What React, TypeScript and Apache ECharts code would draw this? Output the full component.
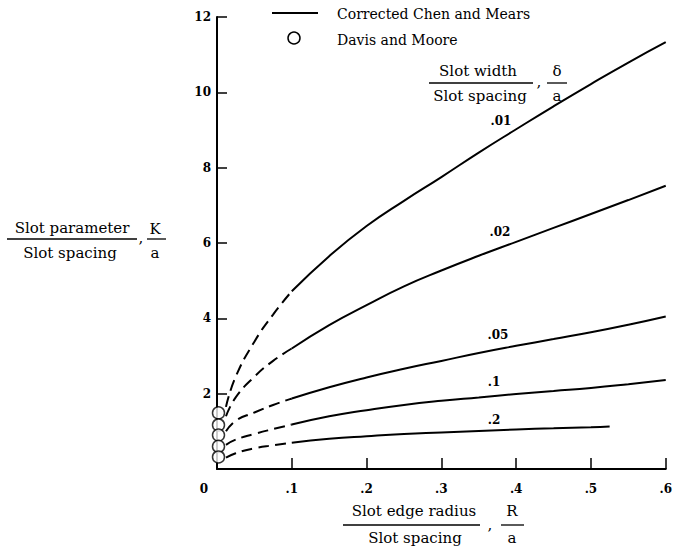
import React, { useEffect, useRef } from 'react';
import * as echarts from 'echarts';

// R/a values (x) for the dashed and solid parts of each curve
const dashedR = [0.012, 0.025, 0.05, 0.075, 0.1];
const solidR = [0.1, 0.15, 0.2, 0.25, 0.3, 0.35, 0.4, 0.45, 0.5, 0.55, 0.6];
const solidR02 = [0.1, 0.15, 0.2, 0.25, 0.3, 0.35, 0.4, 0.45, 0.5, 0.525];

// K/a values for each slot width ratio
const dashed001 = [1.65, 2.45, 3.38, 4.1, 4.72];
const solid001 = [4.72, 5.65, 6.45, 7.12, 7.75, 8.4, 9.02, 9.63, 10.22, 10.79, 11.33];
const dashed002 = [1.4, 1.9, 2.45, 2.87, 3.2];
const solid002 = [3.2, 3.82, 4.35, 4.85, 5.27, 5.66, 6.03, 6.4, 6.77, 7.14, 7.52];
const dashed005 = [1.0, 1.28, 1.5, 1.7, 1.87];
const solid005 = [1.87, 2.17, 2.43, 2.66, 2.87, 3.08, 3.27, 3.45, 3.63, 3.83, 4.05];
const dashed01 = [0.64, 0.78, 0.93, 1.06, 1.18];
const solid01 = [1.18, 1.4, 1.56, 1.7, 1.81, 1.9, 1.99, 2.07, 2.15, 2.25, 2.36];
const dashed02 = [0.3, 0.42, 0.55, 0.63, 0.7];
const solid02 = [0.7, 0.8, 0.87, 0.93, 0.97, 1.01, 1.05, 1.08, 1.11, 1.13];

// Davis and Moore points
const davisR = [0.002, 0.002, 0.002, 0.002, 0.002];
const davisK = [1.49, 1.17, 0.9, 0.6, 0.32];

const curveLabels = ['.01', '.02', '.05', '.1', '.2'];

const SERIF = '"DejaVu Serif", "Liberation Serif", serif';

function pairs(xs: number[], ys: number[]) {
  return xs.map((x, i) => [x, ys[i]]);
}

export default function App() {
  const ref = useRef<HTMLDivElement>(null);
  useEffect(() => {
    document.body.style.margin = '0';
    const chart = echarts.init(ref.current!, null, { renderer: 'svg' });

    const curves = [
      { d: dashed001, s: solid001, sr: solidR },
      { d: dashed002, s: solid002, sr: solidR },
      { d: dashed005, s: solid005, sr: solidR },
      { d: dashed01, s: solid01, sr: solidR },
      { d: dashed02, s: solid02, sr: solidR02 },
    ];

    const series: any[] = [];
    curves.forEach((c, i) => {
      series.push({
        type: 'line',
        name: 'dashed ' + curveLabels[i],
        data: pairs(dashedR, c.d),
        smooth: 0.5,
        showSymbol: false,
        lineStyle: { color: '#000', width: 2, type: [11, 6] },
      });
      series.push({
        type: 'line',
        name: 'Corrected Chen and Mears ' + curveLabels[i],
        data: pairs(c.sr, c.s),
        smooth: 0.5,
        showSymbol: false,
        lineStyle: { color: '#000', width: 2 },
      });
    });
    series.push({
      type: 'scatter',
      name: 'Davis and Moore',
      data: pairs(davisR, davisK),
      symbol: 'circle',
      symbolSize: 12,
      itemStyle: { color: '#fff', borderColor: '#000', borderWidth: 1.5 },
      z: 5,
    });

    const txt = (text: string, x: number, y: number, size = 15, weight = 'normal', align = 'center') => ({
      type: 'text',
      x,
      y,
      z: 10,
      style: {
        text,
        font: `${weight} ${size}px ${SERIF}`,
        fill: '#000',
        align,
        verticalAlign: 'middle',
        textAlign: align,
        textVerticalAlign: 'middle',
      },
    });
    const ln = (x1: number, y1: number, x2: number, y2: number, w = 1.3) => ({
      type: 'line',
      z: 10,
      shape: { x1, y1, x2, y2 },
      style: { stroke: '#000', lineWidth: w },
    });

    const graphic: any[] = [
      // legend
      ln(272, 13, 318, 13, 2),
      { type: 'circle', z: 10, shape: { cx: 294, cy: 38, r: 6 }, style: { fill: '#fff', stroke: '#000', lineWidth: 1.5 } },
      txt('Corrected Chen and Mears', 337, 14, 14, 'normal', 'left'),
      txt('Davis and Moore', 337, 40, 14, 'normal', 'left'),
      // y axis title
      txt('Slot parameter', 72, 228),
      ln(7, 239, 137, 239),
      txt('Slot spacing', 70, 253),
      txt(',', 141, 238),
      txt('K', 155, 229),
      ln(147, 239, 166, 239),
      txt('a', 155, 253),
      // x axis title
      txt('Slot edge radius', 414, 511),
      ln(343, 525, 480, 525),
      txt('Slot spacing', 415, 538),
      txt(',', 490, 525),
      txt('R', 512, 511),
      ln(501, 525, 524, 525),
      txt('a', 512, 538),
      // slot width annotation
      txt('Slot width', 478, 71),
      ln(429, 83, 533, 83),
      txt('Slot spacing', 480, 96),
      txt(',', 539, 82),
      txt('δ', 557, 71),
      ln(547, 83, 567, 83),
      txt('a', 557, 96),
      // curve labels
      txt(curveLabels[0], 501, 121, 12, 'bold'),
      txt(curveLabels[1], 500, 232, 12, 'bold'),
      txt(curveLabels[2], 498, 335, 12, 'bold'),
      txt(curveLabels[3], 494, 382, 12, 'bold'),
      txt(curveLabels[4], 494, 420, 12, 'bold'),
      // origin label
      txt('0', 204, 489, 12, 'bold'),
    ];

    chart.setOption({
      animation: false,
      backgroundColor: '#fff',
      grid: { left: 217, right: 7, top: 17, bottom: 86, containLabel: false },
      xAxis: {
        type: 'value',
        min: 0,
        max: 0.6,
        interval: 0.1,
        axisLine: { show: true, onZero: false, lineStyle: { color: '#000', width: 2 } },
        axisTick: { show: true, inside: true, length: 11, lineStyle: { color: '#000', width: 1.5 } },
        splitLine: { show: false },
        axisLabel: {
          margin: 14,
          color: '#000',
          fontFamily: SERIF,
          fontWeight: 'bold',
          fontSize: 12,
          formatter: (v: number) => (v === 0 ? '' : '.' + Math.round(v * 10)),
        },
      },
      yAxis: {
        type: 'value',
        min: 0,
        max: 12,
        interval: 2,
        axisLine: { show: true, onZero: false, lineStyle: { color: '#000', width: 2 } },
        axisTick: { show: true, inside: true, length: 10, lineStyle: { color: '#000', width: 1.5 } },
        splitLine: { show: false },
        axisLabel: {
          margin: 6,
          color: '#000',
          fontFamily: SERIF,
          fontWeight: 'bold',
          fontSize: 12,
          formatter: (v: number) => (v === 0 ? '' : String(v)),
        },
      },
      series,
      graphic,
    });
    return () => chart.dispose();
  }, []);
  return <div ref={ref} style={{ width: 675, height: 555 }} />;
}
